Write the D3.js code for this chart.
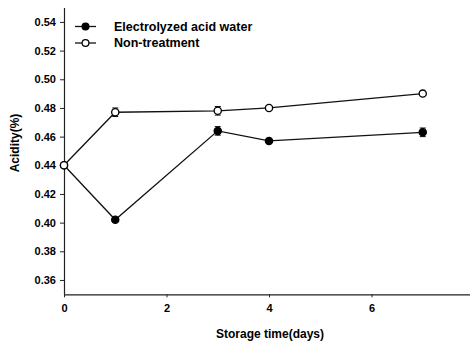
<!DOCTYPE html>
<html>
<head>
<meta charset="utf-8">
<script src="https://cdn.jsdelivr.net/npm/d3@7"></script>
<style>
  body { margin: 0; background: #fff; }
  text { font-family: "Liberation Sans", Arial, sans-serif; font-weight: bold; fill: #000; }
</style>
</head>
<body>
<svg id="chart" width="470" height="345"></svg>
<script>
var days = [0, 1, 3, 4, 7];
var acidWater = [0.440, 0.402, 0.464, 0.457, 0.463];
var acidWaterErr = [0.000, 0.001, 0.003, 0.001, 0.003];
var nonTreat = [0.440, 0.477, 0.478, 0.480, 0.490];
var nonTreatErr = [0.000, 0.003, 0.003, 0.001, 0.001];
var xTicks = [0, 2, 4, 6];
var yTicks = [0.36, 0.38, 0.40, 0.42, 0.44, 0.46, 0.48, 0.50, 0.52, 0.54];
var seriesNames = ["Electrolyzed acid water", "Non-treatment"];

var svg = d3.select("#chart");

var x = d3.scaleLinear().domain([0, 8]).range([64, 474]);
var y = d3.scaleLinear().domain([0.35, 0.55]).range([294.3, 7.6]);

// axes
var yAxis = svg.append("g")
    .attr("transform", "translate(64,0)")
    .call(d3.axisLeft(y).tickValues(yTicks).tickFormat(d3.format(".2f")).tickSize(4).tickSizeOuter(0));
var xAxis = svg.append("g")
    .attr("transform", "translate(0,294.3)")
    .call(d3.axisBottom(x).tickValues(xTicks).tickFormat(d3.format("d")).tickSize(3).tickSizeOuter(0));

[yAxis, xAxis].forEach(function(a) {
    a.select(".domain").attr("stroke", "#222").attr("stroke-width", 1.2);
    a.selectAll(".tick line").attr("stroke", "#222");
    a.selectAll(".tick text").style("font-size", "11px").style("font-family", "Liberation Sans, Arial, sans-serif").style("font-weight", "bold");
});
yAxis.selectAll(".tick text").attr("x", -8);
xAxis.selectAll(".tick text").attr("y", 10);

// axis titles
svg.append("text")
    .attr("transform", "translate(19,143) rotate(-90)")
    .attr("text-anchor", "middle")
    .style("font-size", "12px")
    .text("Acidity(%)");
svg.append("text")
    .attr("x", 270).attr("y", 338)
    .attr("text-anchor", "middle")
    .style("font-size", "12px")
    .text("Storage time(days)");

var line = d3.line()
    .x(function(d) { return x(d[0]); })
    .y(function(d) { return y(d[1]); });

function drawSeries(vals, errs, filled) {
    var pts = days.map(function(d, i) { return [d, vals[i], errs[i]]; });
    var g = svg.append("g");
    g.append("path")
        .datum(pts)
        .attr("d", line)
        .attr("fill", "none")
        .attr("stroke", "#111")
        .attr("stroke-width", 1.3);
    var eb = g.selectAll(".err").data(pts.filter(function(p) { return p[2] > 0; })).enter().append("g");
    eb.append("line")
        .attr("x1", function(p) { return x(p[0]); })
        .attr("x2", function(p) { return x(p[0]); })
        .attr("y1", function(p) { return y(p[1] - p[2]); })
        .attr("y2", function(p) { return y(p[1] + p[2]); })
        .attr("stroke", "#111");
    [1, -1].forEach(function(s) {
        eb.append("line")
            .attr("x1", function(p) { return x(p[0]) - 3; })
            .attr("x2", function(p) { return x(p[0]) + 3; })
            .attr("y1", function(p) { return y(p[1] + s * p[2]); })
            .attr("y2", function(p) { return y(p[1] + s * p[2]); })
            .attr("stroke", "#111");
    });
    g.selectAll("circle").data(pts).enter().append("circle")
        .attr("cx", function(p) { return x(p[0]); })
        .attr("cy", function(p) { return y(p[1]); })
        .attr("r", 3.6)
        .attr("fill", filled ? "#000" : "#fff")
        .attr("stroke", "#000")
        .attr("stroke-width", 1.3);
}

drawSeries(acidWater, acidWaterErr, true);
drawSeries(nonTreat, nonTreatErr, false);

// legend
var legend = svg.append("g");
seriesNames.forEach(function(name, i) {
    var ly = 26.5 + i * 16.5;
    legend.append("line")
        .attr("x1", 75).attr("x2", 96)
        .attr("y1", ly).attr("y2", ly)
        .attr("stroke", "#111").attr("stroke-width", 1.3);
    legend.append("circle")
        .attr("cx", 85.5).attr("cy", ly).attr("r", 3.4)
        .attr("fill", i === 0 ? "#000" : "#fff")
        .attr("stroke", "#000").attr("stroke-width", 1.2);
    legend.append("text")
        .attr("x", 114).attr("y", ly + 4.3)
        .style("font-size", "12.5px")
        .text(name);
});
</script>
</body>
</html>
